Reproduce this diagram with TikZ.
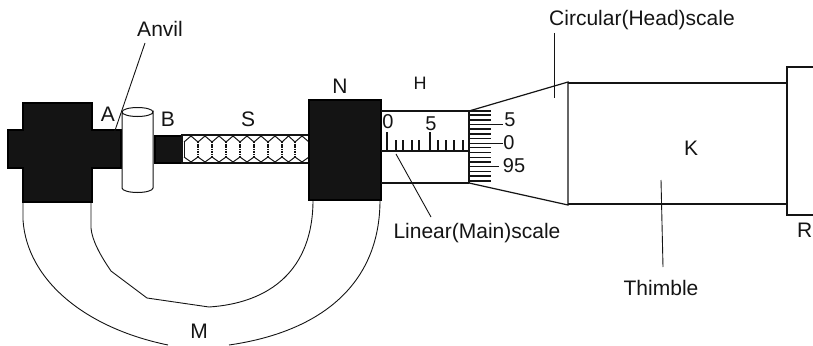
\documentclass[tikz,border=0pt]{standalone}
\usepackage{fontspec}
\setmainfont{Liberation Sans}
\definecolor{ink}{HTML}{141414}
\tikzset{
  part/.style={draw=ink,line width=1.2pt},
  thin part/.style={draw=ink,line width=0.9pt},
  solid part/.style={draw=black,fill=ink,line width=1.2pt},
  lab/.style={inner sep=0pt,text=ink,font=\fontsize{21}{21}\selectfont},
  num/.style={inner sep=0pt,text=ink,font=\fontsize{20}{20}\selectfont},
  leader/.style={draw=ink,line width=0.9pt},
  tick/.style={draw=ink,line width=1.1pt}
}
\begin{document}
\begin{tikzpicture}[x=1pt,y=-1pt]
\useasboundingbox (0,0) rectangle (813,345);
\clip (0,0) rectangle (813,345);
% horseshoe
\draw[thin part] (23,203) -- (23,220) .. controls (27,280) and (85,328) .. (168,345);
\draw[thin part] (229,345) .. controls (320,332) and (380,285) .. (380,200);
\draw[thin part] (91,203) -- (91,228) .. controls (92,240) and (100,255) .. (111,271) -- (147,298) -- (209,307) .. controls (270,303) and (313,270) .. (313,200);
% frame body
\path[solid part] (8,130) -- (23,130) -- (23,103) -- (92,103) -- (92,130) -- (121,130) -- (121,168) -- (92,168) -- (92,202) -- (23,202) -- (23,168) -- (8,168) -- cycle;
% cylinder (anvil)
\path[draw=ink,line width=1pt,fill=white] (122,112) -- (122,188) arc[start angle=180,end angle=0,x radius=15.5,y radius=4.5] -- (153,112) arc[start angle=0,end angle=180,x radius=15.5,y radius=4.5] -- cycle;
\draw[draw=ink,line width=1pt] (122,112) arc[start angle=180,end angle=360,x radius=15.5,y radius=4.5];
% spindle
\path[solid part] (155,136) rectangle (182,163);
\draw[draw=ink,line width=1.2pt] (182,135) rectangle (310,163);
\foreach \v [remember=\v as \u (initially 184)] in {198,212,226,240,254,268,282,295,309}{
  \draw[draw=ink,line width=1pt] (\u,142) -- ({(\u+\v)/2},136) -- (\v,142);
  \draw[draw=ink,line width=1pt] (\u,157) -- ({(\u+\v)/2},162) -- (\v,157);
  \draw[draw=ink,line width=1.2pt,dash pattern=on 1.2pt off 0.5pt] (\v,142) -- (\v,157);
}
\draw[draw=ink,line width=1pt] (184,142) -- (184,157);
% N block
\path[solid part] (309,100) rectangle (381,200);
% main scale sleeve
\draw[part] (381,111) -- (469,111) (381,183) -- (469,183);
\draw[part] (381,151) -- (469,151);
\draw[part] (469,111) -- (469,183);
\foreach \x in {387,430}{\draw[tick] (\x,132) -- (\x,151);}
\foreach \x in {396,403,412,419,438,446,454,463}{\draw[tick] (\x,140) -- (\x,151);}
% circular scale
\foreach \y in {111,115,120,129,134,138.3,147.7,152.3,157.3,162,171.3,176,181}{\draw[tick] (469,\y) -- (491,\y);}
\draw[tick] (469,124.3) -- (503,124.3);
\draw[tick] (469,143.3) -- (503,143.3);
\draw[tick] (469,166.7) -- (499,166.7);
% thimble
\draw[part] (469,111) -- (568,82) -- (568,205) -- (469,183);
\draw[part] (568,83) -- (787,83) (568,204) -- (787,204);
\draw[part] (820,67) -- (787,67) -- (787,215) -- (820,215);
% labels
\node[lab] (anvil) at (160,29) {Anvil};
\node[lab] (a) at (108,114) {A};
\node[lab] (b) at (168,119) {B};
\node[lab] (s) at (248,119) {S};
\node[lab] (n) at (340,86) {N};
\node[inner sep=0pt,text=ink,font=\fontsize{18}{18}\selectfont] (h) at (420,83) {H};
\node[lab] (k) at (691,148) {K};
\node[lab] (m) at (199,331) {M};
\node[lab,anchor=east] (r) at (812.5,230) {R};
\node[lab] (circ) at (642,20) {Circular(Head)scale};
\node[lab] (lin) at (477,233) {Linear(Main)scale};
\node[lab] (thim) at (661,288) {Thimble};
\node[num] (z0) at (388,122) {0};
\node[num] (f5) at (431,124) {5};
\node[num] (h5) at (510,120) {5};
\node[num] (h0) at (509,143) {0};
\node[num] (h95) at (514,166) {95};
% leaders
\coordinate (anvilstart) at (145,43);
\coordinate (anvilend) at (110,145);
\coordinate (circstart) at (554,33);
\coordinate (circend) at (554,98);
\coordinate (linstart) at (431,217);
\coordinate (linend) at (396,154);
\coordinate (thimstart) at (663,267);
\coordinate (thimend) at (661,180);
\draw[leader] (anvilstart) -- (anvilend);
\draw[leader] (circstart) -- (circend);
\draw[leader] (linstart) -- (linend);
\draw[leader] (thimstart) -- (thimend);
\end{tikzpicture}
\end{document}
